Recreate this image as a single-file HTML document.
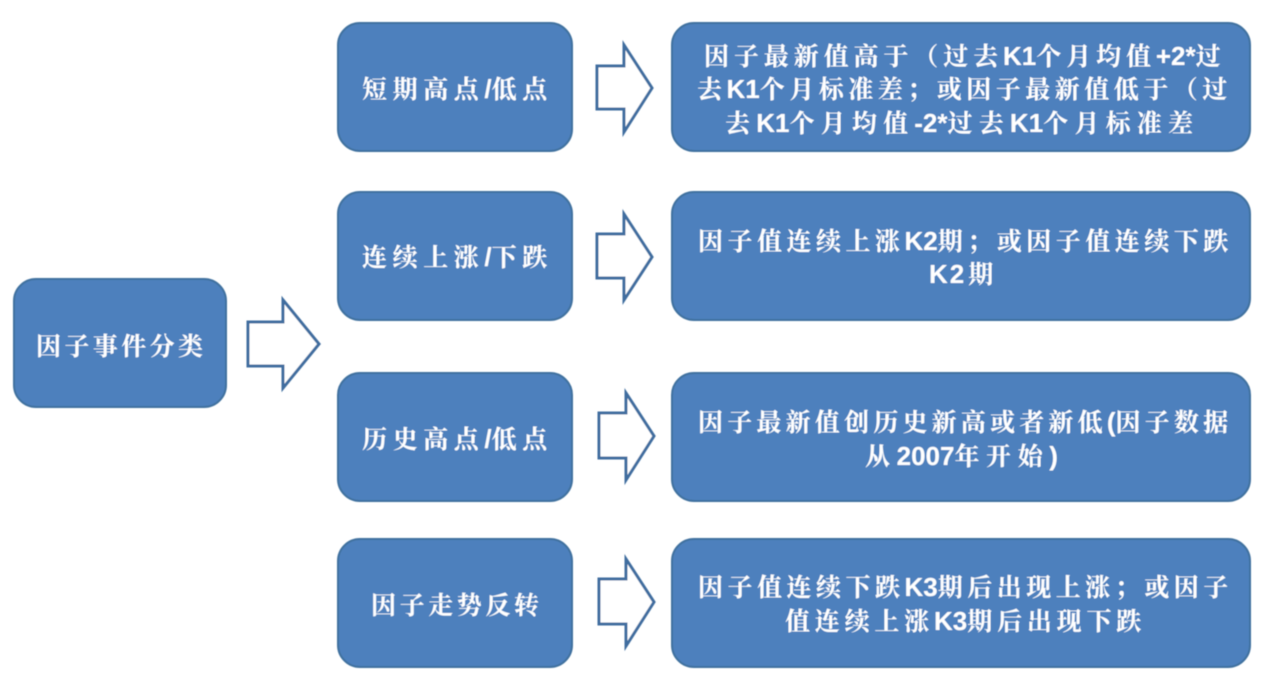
<!DOCTYPE html>
<html lang="zh">
<head>
<meta charset="utf-8">
<title>因子事件分类</title>
<style>
html,body{margin:0;padding:0;background:#fff;width:1263px;height:684px;overflow:hidden}
svg{display:block}
.b{fill:#4d80bd;stroke:#41719f;stroke-width:2}
.a{fill:#fff;stroke:#3f6d9f;stroke-width:3;stroke-linejoin:miter}
text{font-family:"Liberation Sans","Noto Serif CJK SC",serif;font-weight:700;font-size:25px;fill:#fff}
.l{font-family:"Liberation Sans",sans-serif;font-size:26px;letter-spacing:0}
.soft{filter:url(#s)}
</style>
</head>
<body>
<svg width="1263" height="684" viewBox="0 0 1263 684" xmlns="http://www.w3.org/2000/svg">
<defs><filter id="s" x="-5%" y="-5%" width="110%" height="110%"><feGaussianBlur stdDeviation="0.6"/></filter></defs>
<g class="soft">
<rect class="b" x="14" y="279" width="212" height="128" rx="22"/>
<rect class="b" x="338" y="23" width="234" height="128" rx="22"/>
<rect class="b" x="338" y="192" width="234" height="128" rx="22"/>
<rect class="b" x="338" y="373" width="234" height="128" rx="22"/>
<rect class="b" x="338" y="539" width="234" height="128" rx="22"/>
<rect class="b" x="672" y="23" width="578" height="128" rx="22"/>
<rect class="b" x="672" y="192" width="578" height="128" rx="22"/>
<rect class="b" x="672" y="373" width="578" height="128" rx="22"/>
<rect class="b" x="672" y="539" width="578" height="128" rx="22"/>
<polygon class="a" points="248,322 283,322 283,300 319,344 283,388 283,366 248,366"/>
<polygon class="a" points="597,66 624,66 624,45 652,88 624,132 624,109 597,109"/>
<polygon class="a" points="597,234 624,234 624,214 652,257 624,300 624,278 597,278"/>
<polygon class="a" points="599,413 626,413 626,393 654,436 626,480 626,458 599,458"/>
<polygon class="a" points="599,579 626,579 626,559 654,602 626,646 626,624 599,624"/>
<text x="36" y="355" style="letter-spacing:3.4px">因子事件分类</text>
<text x="362" y="98" style="letter-spacing:5.6px">短期高点<tspan class="l">/</tspan>低点</text>
<text x="362" y="266" style="letter-spacing:5.6px">连续上涨<tspan class="l">/</tspan>下跌</text>
<text x="362" y="448" style="letter-spacing:5.6px">历史高点<tspan class="l">/</tspan>低点</text>
<text x="371" y="614" style="letter-spacing:3.6px">因子走势反转</text>
<text x="704" y="65" style="letter-spacing:4.9px">因子最新值高于（过去<tspan class="l">K1</tspan>个月均值<tspan class="l">+2*</tspan>过</text>
<text x="697" y="98" style="letter-spacing:4.5px">去<tspan class="l">K1</tspan>个月标准差；或因子最新值低于（过</text>
<text x="725" y="132" style="letter-spacing:6.2px">去<tspan class="l">K1</tspan>个月均值<tspan class="l">-2*</tspan>过去<tspan class="l">K1</tspan>个月标准差</text>
<text x="698" y="250" style="letter-spacing:4.5px">因子值连续上涨<tspan class="l">K2</tspan>期；或因子值连续下跌</text>
<text x="929" y="283"><tspan class="l" style="letter-spacing:2px">K2</tspan><tspan dx="2">期</tspan></text>
<text x="698" y="431" style="letter-spacing:4.2px">因子最新值创历史新高或者新低<tspan class="l">(</tspan>因子数据</text>
<text x="865" y="465" style="letter-spacing:6.6px">从<tspan class="l">2007</tspan>年开始<tspan class="l">)</tspan></text>
<text x="698" y="596" style="letter-spacing:4.5px">因子值连续下跌<tspan class="l">K3</tspan>期后出现上涨；或因子</text>
<text x="785" y="630" style="letter-spacing:4.8px">值连续上涨<tspan class="l">K3</tspan>期后出现下跌</text>
</g>
</svg>
</body>
</html>
